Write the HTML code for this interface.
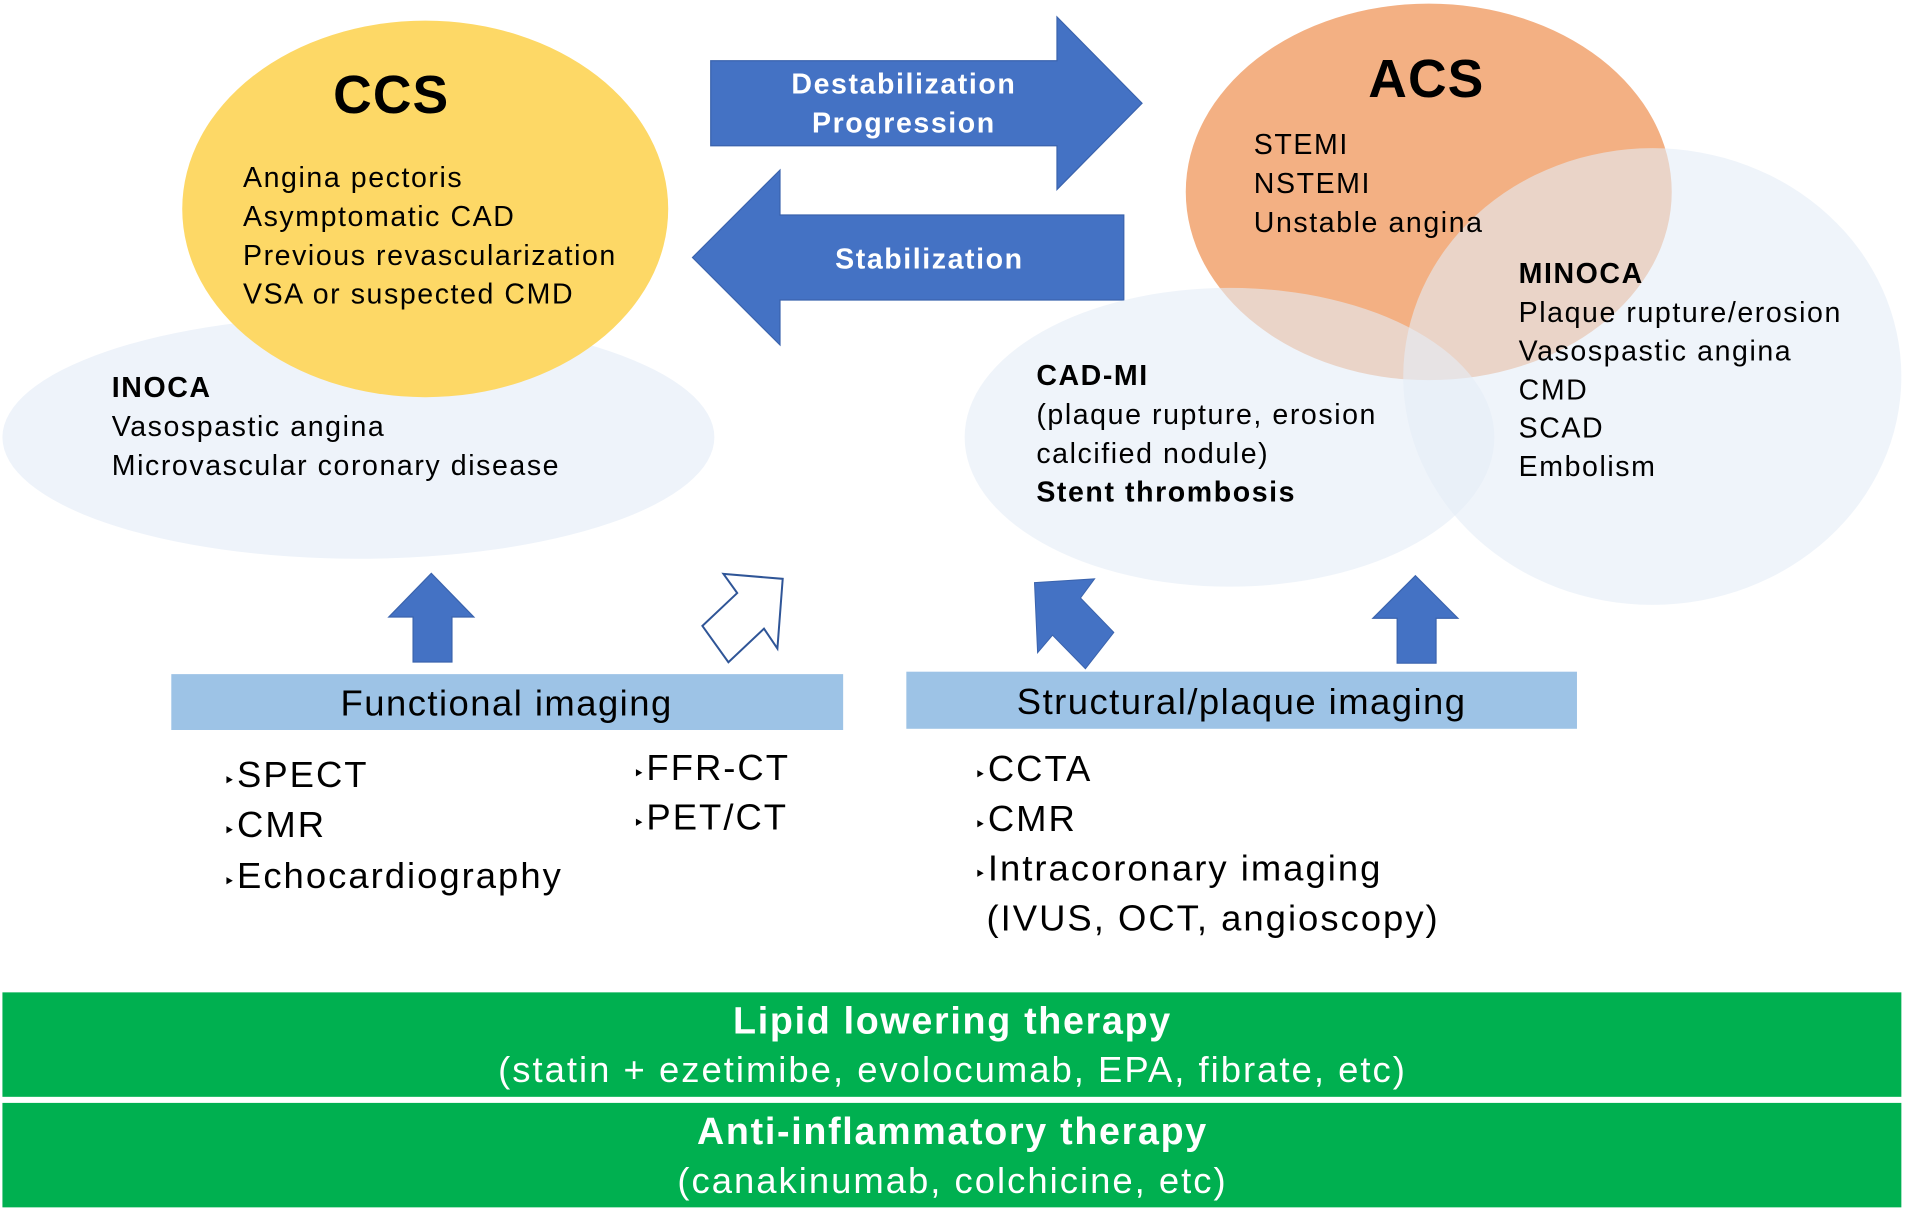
<!DOCTYPE html>
<html><head><meta charset="utf-8"><style>
html,body{margin:0;padding:0;background:#fff}
svg{display:block}
text{font-family:"Liberation Sans",Arial,sans-serif;letter-spacing:0.055em}
</style></head><body>
<svg width="1905" height="1211" viewBox="0 0 1568 997" preserveAspectRatio="none" xmlns="http://www.w3.org/2000/svg">
<ellipse cx="295" cy="360" rx="293" ry="100" fill="#eef3fa"/>
<ellipse cx="350" cy="172" rx="200" ry="155" fill="#fdd866"/>
<text x="322" y="93" font-size="44" font-weight="bold" text-anchor="middle" style="letter-spacing:0.02em">CCS</text>
<g font-size="23.5">
<text x="200" y="154">Angina pectoris</text>
<text x="200" y="186">Asymptomatic CAD</text>
<text x="200" y="218">Previous revascularization</text>
<text x="200" y="250">VSA or suspected CMD</text>
<text x="92" y="327" font-weight="bold">INOCA</text>
<text x="92" y="359">Vasospastic angina</text>
<text x="92" y="391">Microvascular coronary disease</text>
</g>
<polygon points="585,50 870,50 870,14 940,85 870,156 870,120 585,120" fill="#4472c4" stroke="#3a63ad" stroke-width="1"/>
<text x="744" y="77" font-size="23.5" font-weight="bold" fill="#fff" text-anchor="middle">Destabilization</text>
<text x="744" y="109" font-size="23.5" font-weight="bold" fill="#fff" text-anchor="middle">Progression</text>
<polygon points="925,177 642,177 642,140 570,212 642,284 642,247 925,247" fill="#4472c4" stroke="#3a63ad" stroke-width="1"/>
<text x="765" y="221" font-size="23.5" font-weight="bold" fill="#fff" text-anchor="middle">Stabilization</text>
<ellipse cx="1176" cy="158" rx="200" ry="155" fill="#f3b083"/>
<ellipse cx="1012" cy="360" rx="218" ry="123" fill="#e4edf7" fill-opacity="0.6"/>
<ellipse cx="1360" cy="310" rx="205" ry="188" fill="#e4edf7" fill-opacity="0.6"/>
<text x="1174" y="80" font-size="44" font-weight="bold" text-anchor="middle" style="letter-spacing:0.02em">ACS</text>
<g font-size="23.5">
<text x="1032" y="127">STEMI</text>
<text x="1032" y="159">NSTEMI</text>
<text x="1032" y="191">Unstable angina</text>
<text x="853" y="317" font-weight="bold">CAD-MI</text>
<text x="853" y="349">(plaque rupture, erosion</text>
<text x="853" y="381"> calcified nodule)</text>
<text x="853" y="413" font-weight="bold">Stent thrombosis</text>
<text x="1250" y="233" font-weight="bold">MINOCA</text>
<text x="1250" y="265">Plaque rupture/erosion</text>
<text x="1250" y="297">Vasospastic angina</text>
<text x="1250" y="329">CMD</text>
<text x="1250" y="360">SCAD</text>
<text x="1250" y="392">Embolism</text>
</g>
<polygon points="340,545 372,545 372,508 390,508 355,472 320,508 340,508" fill="#4472c4" stroke="#3a63ad" stroke-width="1"/>
<polygon points="1150,546 1182,546 1182,509 1200,509 1165,474 1130,509 1150,509" fill="#4472c4" stroke="#3a63ad" stroke-width="1"/>
<g transform="translate(0,-8) scale(0.8231)">
<polygon points="723.4,583.7 782.7,588.7 777.4,658.4 764,638.5 728.4,672.1 702.4,635.8 737.2,602.9" fill="#fff" stroke="#2f5597" stroke-width="2"/>
<polygon points="1034.5,592.5 1094.6,588.7 1080.5,607.8 1113.8,642.3 1085.4,678.6 1052.5,645 1037.6,662.6" fill="#4472c4" stroke="#3a63ad" stroke-width="1"/>
</g>
<rect x="141" y="555" width="553" height="46" fill="#9dc3e6"/>
<text x="417" y="589" font-size="30" text-anchor="middle" style="letter-spacing:0.04em">Functional imaging</text>
<rect x="746" y="553" width="552" height="47" fill="#9dc3e6"/>
<text x="1022" y="588" font-size="30" text-anchor="middle" style="letter-spacing:0.04em">Structural/plaque imaging</text>
<g font-size="30">
<text x="184" y="648"><tspan font-size="16">&#8227;</tspan>SPECT</text>
<text x="184" y="689"><tspan font-size="16">&#8227;</tspan>CMR</text>
<text x="184" y="731"><tspan font-size="16">&#8227;</tspan>Echocardiography</text>
<text x="521" y="642"><tspan font-size="16">&#8227;</tspan>FFR-CT</text>
<text x="521" y="683"><tspan font-size="16">&#8227;</tspan>PET/CT</text>
<text x="802" y="643"><tspan font-size="16">&#8227;</tspan>CCTA</text>
<text x="802" y="684"><tspan font-size="16">&#8227;</tspan>CMR</text>
<text x="802" y="725"><tspan font-size="16">&#8227;</tspan>Intracoronary imaging</text>
<text x="812" y="766">(IVUS, OCT, angioscopy)</text>
</g>
<rect x="2" y="817" width="1563" height="86" fill="#00b050"/>
<rect x="2" y="908" width="1563" height="86" fill="#00b050"/>
<g fill="#fff" text-anchor="middle">
<text x="784" y="851" font-size="31" font-weight="bold" style="letter-spacing:0.045em">Lipid lowering therapy</text>
<text x="784" y="891" font-size="30">(statin + ezetimibe, evolocumab, EPA, fibrate, etc)</text>
<text x="784" y="942" font-size="31" font-weight="bold" style="letter-spacing:0.045em">Anti-inflammatory therapy</text>
<text x="784" y="982" font-size="30">(canakinumab, colchicine, etc)</text>
</g>
</svg>
</body></html>
